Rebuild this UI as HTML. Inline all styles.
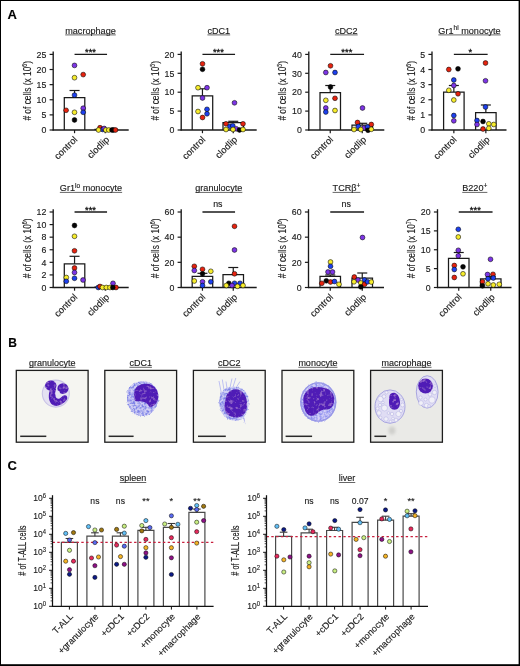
<!DOCTYPE html>
<html><head><meta charset="utf-8"><style>
html,body{margin:0;padding:0;background:#fff;}
body{width:520px;height:666px;overflow:hidden;}
svg{display:block;font-family:"Liberation Sans", sans-serif;will-change:transform;}
text{stroke:#1a1a1a;stroke-width:0.14px;}
</style></head><body>
<svg width="520" height="666" viewBox="0 0 520 666">
<rect x="0" y="0" width="520" height="666" fill="#000"/>
<defs><filter id="soft" x="-20%" y="-20%" width="140%" height="140%"><feGaussianBlur stdDeviation="0.6"/></filter><filter id="soft2" x="-50%" y="-50%" width="200%" height="200%"><feGaussianBlur stdDeviation="1.5"/></filter><filter id="grain" x="-15%" y="-15%" width="130%" height="130%"><feTurbulence type="fractalNoise" baseFrequency="0.45" numOctaves="2" seed="7" result="t"/><feDisplacementMap in="SourceGraphic" in2="t" scale="3.2" xChannelSelector="R" yChannelSelector="G" result="d"/><feColorMatrix in="t" type="matrix" values="0 0 0 0 0 0 0 0 0 0 0 0 0 0 0 0 0 0 2.4 -0.8" result="a"/><feComposite in="d" in2="a" operator="in" result="g"/><feGaussianBlur in="g" stdDeviation="0.5"/></filter><filter id="ngrain" x="-15%" y="-15%" width="130%" height="130%"><feTurbulence type="fractalNoise" baseFrequency="0.3" numOctaves="2" seed="3" result="t"/><feColorMatrix in="t" type="matrix" values="0 0 0 0 0.6 0 0 0 0 0.3 0 0 0 0 0.78 0 0 0 1.6 -0.85" result="a"/><feComposite in="a" in2="SourceGraphic" operator="in" result="sp"/><feMerge result="m"><feMergeNode in="SourceGraphic"/><feMergeNode in="sp"/></feMerge><feGaussianBlur in="m" stdDeviation="0.75"/></filter></defs>
<rect x="1" y="1" width="517.6" height="663.2" fill="#fff"/>
<path d="M64.3 130V97.5H84.8V130" fill="#fff" stroke="#1a1a1a" stroke-width="1.25"/>
<path d="M95 130V129.3H115.5V130" fill="#fff" stroke="#1a1a1a" stroke-width="1.25"/>
<line x1="74.55" y1="97.5" x2="74.55" y2="90.5" stroke="#1a1a1a" stroke-width="1.2" />
<line x1="69.55" y1="90.5" x2="79.55" y2="90.5" stroke="#1a1a1a" stroke-width="1.2" />
<line x1="53.2" y1="51.6" x2="53.2" y2="130.6" stroke="#1a1a1a" stroke-width="1.35" />
<line x1="52.6" y1="130" x2="128.7" y2="130" stroke="#1a1a1a" stroke-width="1.35" />
<line x1="49.6" y1="130" x2="53.2" y2="130" stroke="#1a1a1a" stroke-width="1.2" />
<text x="46.3" y="133.2" font-size="8.8" text-anchor="end" font-weight="normal" fill="#1a1a1a" >0</text>
<line x1="49.6" y1="114.88" x2="53.2" y2="114.88" stroke="#1a1a1a" stroke-width="1.2" />
<text x="46.3" y="118.08" font-size="8.8" text-anchor="end" font-weight="normal" fill="#1a1a1a" >5</text>
<line x1="49.6" y1="99.76" x2="53.2" y2="99.76" stroke="#1a1a1a" stroke-width="1.2" />
<text x="46.3" y="102.96" font-size="8.8" text-anchor="end" font-weight="normal" fill="#1a1a1a" >10</text>
<line x1="49.6" y1="84.64" x2="53.2" y2="84.64" stroke="#1a1a1a" stroke-width="1.2" />
<text x="46.3" y="87.84" font-size="8.8" text-anchor="end" font-weight="normal" fill="#1a1a1a" >15</text>
<line x1="49.6" y1="69.52" x2="53.2" y2="69.52" stroke="#1a1a1a" stroke-width="1.2" />
<text x="46.3" y="72.72" font-size="8.8" text-anchor="end" font-weight="normal" fill="#1a1a1a" >20</text>
<line x1="49.6" y1="54.4" x2="53.2" y2="54.4" stroke="#1a1a1a" stroke-width="1.2" />
<text x="46.3" y="57.6" font-size="8.8" text-anchor="end" font-weight="normal" fill="#1a1a1a" >25</text>
<line x1="74.55" y1="130" x2="74.55" y2="133.2" stroke="#1a1a1a" stroke-width="1.2" />
<text transform="translate(77.95 140.2) rotate(-45)" font-size="9.4" text-anchor="end" fill="#1a1a1a">control</text>
<line x1="105.25" y1="130" x2="105.25" y2="133.2" stroke="#1a1a1a" stroke-width="1.2" />
<text transform="translate(109.85 140.2) rotate(-45)" font-size="9.4" text-anchor="end" fill="#1a1a1a">clodlip</text>
<circle cx="74.5" cy="65.4" r="2.4" fill="#7d35e6" stroke="#000" stroke-width="0.55"/>
<circle cx="83.2" cy="74.6" r="2.4" fill="#e6230f" stroke="#000" stroke-width="0.55"/>
<circle cx="74.5" cy="77.7" r="2.4" fill="#f6ec2c" stroke="#000" stroke-width="0.55"/>
<circle cx="74.5" cy="95.1" r="2.4" fill="#1d40ee" stroke="#000" stroke-width="0.55"/>
<circle cx="83.2" cy="108.2" r="2.4" fill="#7d35e6" stroke="#000" stroke-width="0.55"/>
<circle cx="66.1" cy="110.3" r="2.4" fill="#e6230f" stroke="#000" stroke-width="0.55"/>
<circle cx="74.5" cy="112.3" r="2.4" fill="#f6ec2c" stroke="#000" stroke-width="0.55"/>
<circle cx="83.2" cy="112.3" r="2.4" fill="#1d40ee" stroke="#000" stroke-width="0.55"/>
<circle cx="74.5" cy="120" r="2.4" fill="#050505" stroke="#000" stroke-width="0.55"/>
<circle cx="100" cy="127.7" r="2.4" fill="#e6230f" stroke="#000" stroke-width="0.55"/>
<circle cx="102.7" cy="129.5" r="2.4" fill="#1d40ee" stroke="#000" stroke-width="0.55"/>
<circle cx="104.2" cy="128.5" r="2.4" fill="#7d35e6" stroke="#000" stroke-width="0.55"/>
<circle cx="98.5" cy="130" r="2.4" fill="#f6ec2c" stroke="#000" stroke-width="0.55"/>
<circle cx="105.8" cy="130" r="2.4" fill="#f6ec2c" stroke="#000" stroke-width="0.55"/>
<circle cx="108.8" cy="130" r="2.4" fill="#f6ec2c" stroke="#000" stroke-width="0.55"/>
<circle cx="112" cy="130" r="2.4" fill="#050505" stroke="#000" stroke-width="0.55"/>
<circle cx="113.5" cy="130" r="2.4" fill="#050505" stroke="#000" stroke-width="0.55"/>
<circle cx="115.5" cy="130" r="2.4" fill="#e6230f" stroke="#000" stroke-width="0.55"/>
<line x1="74.55" y1="54.4" x2="107.05" y2="54.4" stroke="#1a1a1a" stroke-width="1.3" />
<text x="90.5" y="55.4" font-size="9.4" text-anchor="middle" font-weight="normal" fill="#111" style="stroke-width:0.3px;stroke:#111">***</text>
<text x="65.21" y="33.6" font-size="9.1" fill="#1a1a1a">macrophage</text>
<line x1="65.21" y1="34.9" x2="115.79" y2="34.9" stroke="#333" stroke-width="0.75" />
<text transform="translate(30.6 90.8) rotate(-90) scale(0.71 1)" font-size="11.8" text-anchor="middle" fill="#1a1a1a"># of cells (x 10<tspan dy="-4.0" font-size="7.3">6</tspan><tspan dy="4.0">)</tspan></text>
<path d="M192.2 130V95.8H212.7V130" fill="#fff" stroke="#1a1a1a" stroke-width="1.25"/>
<path d="M223 130V122.5H243.5V130" fill="#fff" stroke="#1a1a1a" stroke-width="1.25"/>
<line x1="202.45" y1="95.8" x2="202.45" y2="88.8" stroke="#1a1a1a" stroke-width="1.2" />
<line x1="197.45" y1="88.8" x2="207.45" y2="88.8" stroke="#1a1a1a" stroke-width="1.2" />
<line x1="233.25" y1="122.5" x2="233.25" y2="121.3" stroke="#1a1a1a" stroke-width="1.2" />
<line x1="228.25" y1="121.3" x2="238.25" y2="121.3" stroke="#1a1a1a" stroke-width="1.2" />
<line x1="181.2" y1="51.6" x2="181.2" y2="130.6" stroke="#1a1a1a" stroke-width="1.35" />
<line x1="180.6" y1="130" x2="256.7" y2="130" stroke="#1a1a1a" stroke-width="1.35" />
<line x1="177.6" y1="130" x2="181.2" y2="130" stroke="#1a1a1a" stroke-width="1.2" />
<text x="174.3" y="133.2" font-size="8.8" text-anchor="end" font-weight="normal" fill="#1a1a1a" >0</text>
<line x1="177.6" y1="111.1" x2="181.2" y2="111.1" stroke="#1a1a1a" stroke-width="1.2" />
<text x="174.3" y="114.3" font-size="8.8" text-anchor="end" font-weight="normal" fill="#1a1a1a" >5</text>
<line x1="177.6" y1="92.2" x2="181.2" y2="92.2" stroke="#1a1a1a" stroke-width="1.2" />
<text x="174.3" y="95.4" font-size="8.8" text-anchor="end" font-weight="normal" fill="#1a1a1a" >10</text>
<line x1="177.6" y1="73.3" x2="181.2" y2="73.3" stroke="#1a1a1a" stroke-width="1.2" />
<text x="174.3" y="76.5" font-size="8.8" text-anchor="end" font-weight="normal" fill="#1a1a1a" >15</text>
<line x1="177.6" y1="54.4" x2="181.2" y2="54.4" stroke="#1a1a1a" stroke-width="1.2" />
<text x="174.3" y="57.6" font-size="8.8" text-anchor="end" font-weight="normal" fill="#1a1a1a" >20</text>
<line x1="202.45" y1="130" x2="202.45" y2="133.2" stroke="#1a1a1a" stroke-width="1.2" />
<text transform="translate(205.85 140.2) rotate(-45)" font-size="9.4" text-anchor="end" fill="#1a1a1a">control</text>
<line x1="233.25" y1="130" x2="233.25" y2="133.2" stroke="#1a1a1a" stroke-width="1.2" />
<text transform="translate(237.85 140.2) rotate(-45)" font-size="9.4" text-anchor="end" fill="#1a1a1a">clodlip</text>
<circle cx="202.5" cy="63.8" r="2.4" fill="#e6230f" stroke="#000" stroke-width="0.55"/>
<circle cx="202.5" cy="69.3" r="2.4" fill="#050505" stroke="#000" stroke-width="0.55"/>
<circle cx="198" cy="87.7" r="2.4" fill="#f6ec2c" stroke="#000" stroke-width="0.55"/>
<circle cx="207" cy="87.7" r="2.4" fill="#7d35e6" stroke="#000" stroke-width="0.55"/>
<circle cx="202.5" cy="98" r="2.4" fill="#7d35e6" stroke="#000" stroke-width="0.55"/>
<circle cx="207" cy="109.3" r="2.4" fill="#1d40ee" stroke="#000" stroke-width="0.55"/>
<circle cx="198" cy="111.5" r="2.4" fill="#f6ec2c" stroke="#000" stroke-width="0.55"/>
<circle cx="207" cy="113.8" r="2.4" fill="#1d40ee" stroke="#000" stroke-width="0.55"/>
<circle cx="202.5" cy="117.5" r="2.4" fill="#e6230f" stroke="#000" stroke-width="0.55"/>
<circle cx="234.5" cy="102.8" r="2.4" fill="#7d35e6" stroke="#000" stroke-width="0.55"/>
<circle cx="226" cy="123.8" r="2.4" fill="#e6230f" stroke="#000" stroke-width="0.55"/>
<circle cx="243" cy="123.8" r="2.4" fill="#e6230f" stroke="#000" stroke-width="0.55"/>
<circle cx="230" cy="126.3" r="2.4" fill="#1d40ee" stroke="#000" stroke-width="0.55"/>
<circle cx="232.8" cy="125.8" r="2.4" fill="#1d40ee" stroke="#000" stroke-width="0.55"/>
<circle cx="236.3" cy="128.8" r="2.4" fill="#7d35e6" stroke="#000" stroke-width="0.55"/>
<circle cx="226" cy="129.5" r="2.4" fill="#f6ec2c" stroke="#000" stroke-width="0.55"/>
<circle cx="233" cy="129.5" r="2.4" fill="#f6ec2c" stroke="#000" stroke-width="0.55"/>
<circle cx="239.5" cy="130" r="2.4" fill="#050505" stroke="#000" stroke-width="0.55"/>
<circle cx="243" cy="129.5" r="2.4" fill="#f6ec2c" stroke="#000" stroke-width="0.55"/>
<line x1="202.45" y1="54.4" x2="235.05" y2="54.4" stroke="#1a1a1a" stroke-width="1.3" />
<text x="218.45" y="55.4" font-size="9.4" text-anchor="middle" font-weight="normal" fill="#111" style="stroke-width:0.3px;stroke:#111">***</text>
<text x="207.42" y="33.6" font-size="9.1" fill="#1a1a1a">cDC1</text>
<line x1="207.42" y1="34.9" x2="230.18" y2="34.9" stroke="#333" stroke-width="0.75" />
<text transform="translate(158.6 90.8) rotate(-90) scale(0.71 1)" font-size="11.8" text-anchor="middle" fill="#1a1a1a"># of cells (x 10<tspan dy="-4.0" font-size="7.3">5</tspan><tspan dy="4.0">)</tspan></text>
<path d="M320 130V92.5H340.5V130" fill="#fff" stroke="#1a1a1a" stroke-width="1.25"/>
<path d="M352 130V125H372.5V130" fill="#fff" stroke="#1a1a1a" stroke-width="1.25"/>
<line x1="330.25" y1="92.5" x2="330.25" y2="85.5" stroke="#1a1a1a" stroke-width="1.2" />
<line x1="325.25" y1="85.5" x2="335.25" y2="85.5" stroke="#1a1a1a" stroke-width="1.2" />
<line x1="362.25" y1="125" x2="362.25" y2="123.3" stroke="#1a1a1a" stroke-width="1.2" />
<line x1="357.25" y1="123.3" x2="367.25" y2="123.3" stroke="#1a1a1a" stroke-width="1.2" />
<line x1="308.8" y1="51.6" x2="308.8" y2="130.6" stroke="#1a1a1a" stroke-width="1.35" />
<line x1="308.2" y1="130" x2="384.3" y2="130" stroke="#1a1a1a" stroke-width="1.35" />
<line x1="305.2" y1="130" x2="308.8" y2="130" stroke="#1a1a1a" stroke-width="1.2" />
<text x="301.9" y="133.2" font-size="8.8" text-anchor="end" font-weight="normal" fill="#1a1a1a" >0</text>
<line x1="305.2" y1="111.1" x2="308.8" y2="111.1" stroke="#1a1a1a" stroke-width="1.2" />
<text x="301.9" y="114.3" font-size="8.8" text-anchor="end" font-weight="normal" fill="#1a1a1a" >10</text>
<line x1="305.2" y1="92.2" x2="308.8" y2="92.2" stroke="#1a1a1a" stroke-width="1.2" />
<text x="301.9" y="95.4" font-size="8.8" text-anchor="end" font-weight="normal" fill="#1a1a1a" >20</text>
<line x1="305.2" y1="73.3" x2="308.8" y2="73.3" stroke="#1a1a1a" stroke-width="1.2" />
<text x="301.9" y="76.5" font-size="8.8" text-anchor="end" font-weight="normal" fill="#1a1a1a" >30</text>
<line x1="305.2" y1="54.4" x2="308.8" y2="54.4" stroke="#1a1a1a" stroke-width="1.2" />
<text x="301.9" y="57.6" font-size="8.8" text-anchor="end" font-weight="normal" fill="#1a1a1a" >40</text>
<line x1="330.25" y1="130" x2="330.25" y2="133.2" stroke="#1a1a1a" stroke-width="1.2" />
<text transform="translate(333.65 140.2) rotate(-45)" font-size="9.4" text-anchor="end" fill="#1a1a1a">control</text>
<line x1="362.25" y1="130" x2="362.25" y2="133.2" stroke="#1a1a1a" stroke-width="1.2" />
<text transform="translate(366.85 140.2) rotate(-45)" font-size="9.4" text-anchor="end" fill="#1a1a1a">clodlip</text>
<circle cx="330.5" cy="65.8" r="2.4" fill="#e6230f" stroke="#000" stroke-width="0.55"/>
<circle cx="325.8" cy="72.5" r="2.4" fill="#7d35e6" stroke="#000" stroke-width="0.55"/>
<circle cx="335" cy="72.5" r="2.4" fill="#1d40ee" stroke="#000" stroke-width="0.55"/>
<circle cx="330.5" cy="87" r="2.4" fill="#050505" stroke="#000" stroke-width="0.55"/>
<circle cx="325.8" cy="100.3" r="2.4" fill="#f6ec2c" stroke="#000" stroke-width="0.55"/>
<circle cx="335" cy="98.3" r="2.4" fill="#e6230f" stroke="#000" stroke-width="0.55"/>
<circle cx="325.8" cy="108" r="2.4" fill="#7d35e6" stroke="#000" stroke-width="0.55"/>
<circle cx="325.8" cy="112" r="2.4" fill="#1d40ee" stroke="#000" stroke-width="0.55"/>
<circle cx="335" cy="110.5" r="2.4" fill="#f6ec2c" stroke="#000" stroke-width="0.55"/>
<circle cx="362.5" cy="108" r="2.4" fill="#7d35e6" stroke="#000" stroke-width="0.55"/>
<circle cx="357.5" cy="122.5" r="2.4" fill="#e6230f" stroke="#000" stroke-width="0.55"/>
<circle cx="371.3" cy="124.5" r="2.4" fill="#e6230f" stroke="#000" stroke-width="0.55"/>
<circle cx="358.3" cy="126.5" r="2.4" fill="#1d40ee" stroke="#000" stroke-width="0.55"/>
<circle cx="363.8" cy="128" r="2.4" fill="#7d35e6" stroke="#000" stroke-width="0.55"/>
<circle cx="367.5" cy="127" r="2.4" fill="#1d40ee" stroke="#000" stroke-width="0.55"/>
<circle cx="354" cy="129.5" r="2.4" fill="#f6ec2c" stroke="#000" stroke-width="0.55"/>
<circle cx="360.8" cy="129.5" r="2.4" fill="#f6ec2c" stroke="#000" stroke-width="0.55"/>
<circle cx="368" cy="130.3" r="2.4" fill="#050505" stroke="#000" stroke-width="0.55"/>
<circle cx="371.3" cy="129.3" r="2.4" fill="#f6ec2c" stroke="#000" stroke-width="0.55"/>
<line x1="330.25" y1="54.4" x2="364.05" y2="54.4" stroke="#1a1a1a" stroke-width="1.3" />
<text x="346.85" y="55.4" font-size="9.4" text-anchor="middle" font-weight="normal" fill="#111" style="stroke-width:0.3px;stroke:#111">***</text>
<text x="334.92" y="33.6" font-size="9.1" fill="#1a1a1a">cDC2</text>
<line x1="334.92" y1="34.9" x2="357.68" y2="34.9" stroke="#333" stroke-width="0.75" />
<text transform="translate(285.8 90.8) rotate(-90) scale(0.71 1)" font-size="11.8" text-anchor="middle" fill="#1a1a1a"># of cells (x 10<tspan dy="-4.0" font-size="7.3">5</tspan><tspan dy="4.0">)</tspan></text>
<path d="M443.6 130V92H464.1V130" fill="#fff" stroke="#1a1a1a" stroke-width="1.25"/>
<path d="M475.6 130V112.5H496.1V130" fill="#fff" stroke="#1a1a1a" stroke-width="1.25"/>
<line x1="453.85" y1="92" x2="453.85" y2="85.5" stroke="#1a1a1a" stroke-width="1.2" />
<line x1="448.85" y1="85.5" x2="458.85" y2="85.5" stroke="#1a1a1a" stroke-width="1.2" />
<line x1="485.85" y1="112.5" x2="485.85" y2="105" stroke="#1a1a1a" stroke-width="1.2" />
<line x1="480.85" y1="105" x2="490.85" y2="105" stroke="#1a1a1a" stroke-width="1.2" />
<line x1="432" y1="51.6" x2="432" y2="130.6" stroke="#1a1a1a" stroke-width="1.35" />
<line x1="431.4" y1="130" x2="506.5" y2="130" stroke="#1a1a1a" stroke-width="1.35" />
<line x1="428.4" y1="130" x2="432" y2="130" stroke="#1a1a1a" stroke-width="1.2" />
<text x="425.1" y="133.2" font-size="8.8" text-anchor="end" font-weight="normal" fill="#1a1a1a" >0</text>
<line x1="428.4" y1="114.88" x2="432" y2="114.88" stroke="#1a1a1a" stroke-width="1.2" />
<text x="425.1" y="118.08" font-size="8.8" text-anchor="end" font-weight="normal" fill="#1a1a1a" >1</text>
<line x1="428.4" y1="99.76" x2="432" y2="99.76" stroke="#1a1a1a" stroke-width="1.2" />
<text x="425.1" y="102.96" font-size="8.8" text-anchor="end" font-weight="normal" fill="#1a1a1a" >2</text>
<line x1="428.4" y1="84.64" x2="432" y2="84.64" stroke="#1a1a1a" stroke-width="1.2" />
<text x="425.1" y="87.84" font-size="8.8" text-anchor="end" font-weight="normal" fill="#1a1a1a" >3</text>
<line x1="428.4" y1="69.52" x2="432" y2="69.52" stroke="#1a1a1a" stroke-width="1.2" />
<text x="425.1" y="72.72" font-size="8.8" text-anchor="end" font-weight="normal" fill="#1a1a1a" >4</text>
<line x1="428.4" y1="54.4" x2="432" y2="54.4" stroke="#1a1a1a" stroke-width="1.2" />
<text x="425.1" y="57.6" font-size="8.8" text-anchor="end" font-weight="normal" fill="#1a1a1a" >5</text>
<line x1="453.85" y1="130" x2="453.85" y2="133.2" stroke="#1a1a1a" stroke-width="1.2" />
<text transform="translate(457.25 140.2) rotate(-45)" font-size="9.4" text-anchor="end" fill="#1a1a1a">control</text>
<line x1="485.85" y1="130" x2="485.85" y2="133.2" stroke="#1a1a1a" stroke-width="1.2" />
<text transform="translate(490.45 140.2) rotate(-45)" font-size="9.4" text-anchor="end" fill="#1a1a1a">clodlip</text>
<circle cx="448.8" cy="69.5" r="2.4" fill="#e6230f" stroke="#000" stroke-width="0.55"/>
<circle cx="458" cy="68.8" r="2.4" fill="#050505" stroke="#000" stroke-width="0.55"/>
<circle cx="453.8" cy="80" r="2.4" fill="#1d40ee" stroke="#000" stroke-width="0.55"/>
<circle cx="453.8" cy="85.5" r="2.4" fill="#7d35e6" stroke="#000" stroke-width="0.55"/>
<circle cx="448.8" cy="90.3" r="2.4" fill="#f6ec2c" stroke="#000" stroke-width="0.55"/>
<circle cx="458" cy="93.8" r="2.4" fill="#e6230f" stroke="#000" stroke-width="0.55"/>
<circle cx="453.8" cy="100" r="2.4" fill="#f6ec2c" stroke="#000" stroke-width="0.55"/>
<circle cx="453.8" cy="115.5" r="2.4" fill="#1d40ee" stroke="#000" stroke-width="0.55"/>
<circle cx="453.8" cy="120.8" r="2.4" fill="#7d35e6" stroke="#000" stroke-width="0.55"/>
<circle cx="485.5" cy="63" r="2.4" fill="#e6230f" stroke="#000" stroke-width="0.55"/>
<circle cx="485.5" cy="80.8" r="2.4" fill="#7d35e6" stroke="#000" stroke-width="0.55"/>
<circle cx="485.5" cy="107" r="2.4" fill="#1d40ee" stroke="#000" stroke-width="0.55"/>
<circle cx="477" cy="120.5" r="2.4" fill="#1d40ee" stroke="#000" stroke-width="0.55"/>
<circle cx="483" cy="121.5" r="2.4" fill="#050505" stroke="#000" stroke-width="0.55"/>
<circle cx="477" cy="124.5" r="2.4" fill="#7d35e6" stroke="#000" stroke-width="0.55"/>
<circle cx="488.8" cy="123.8" r="2.4" fill="#f6ec2c" stroke="#000" stroke-width="0.55"/>
<circle cx="493.8" cy="124.5" r="2.4" fill="#f6ec2c" stroke="#000" stroke-width="0.55"/>
<circle cx="483" cy="129" r="2.4" fill="#e6230f" stroke="#000" stroke-width="0.55"/>
<circle cx="488.8" cy="128.3" r="2.4" fill="#f6ec2c" stroke="#000" stroke-width="0.55"/>
<line x1="453.85" y1="54.4" x2="487.65" y2="54.4" stroke="#1a1a1a" stroke-width="1.3" />
<text x="470.45" y="55.4" font-size="9.4" text-anchor="middle" font-weight="normal" fill="#111" style="stroke-width:0.3px;stroke:#111">*</text>
<text x="438.36" y="33.6" font-size="9.1" fill="#1a1a1a">Gr1</text>
<text x="453.53" y="30.2" font-size="6.6" fill="#1a1a1a">hi</text>
<text x="461.19" y="33.6" font-size="9.1" fill="#1a1a1a">monocyte</text>
<line x1="438.36" y1="34.9" x2="500.64" y2="34.9" stroke="#333" stroke-width="0.75" />
<text transform="translate(414.9 90.8) rotate(-90) scale(0.71 1)" font-size="11.8" text-anchor="middle" fill="#1a1a1a"># of cells (x 10<tspan dy="-4.0" font-size="7.3">6</tspan><tspan dy="4.0">)</tspan></text>
<path d="M64.3 287.5V263.8H84.8V287.5" fill="#fff" stroke="#1a1a1a" stroke-width="1.25"/>
<path d="M95 287.5V287H115.5V287.5" fill="#fff" stroke="#1a1a1a" stroke-width="1.25"/>
<line x1="74.55" y1="263.8" x2="74.55" y2="256.3" stroke="#1a1a1a" stroke-width="1.2" />
<line x1="69.55" y1="256.3" x2="79.55" y2="256.3" stroke="#1a1a1a" stroke-width="1.2" />
<line x1="53.2" y1="209.2" x2="53.2" y2="288.1" stroke="#1a1a1a" stroke-width="1.35" />
<line x1="52.6" y1="287.5" x2="128.7" y2="287.5" stroke="#1a1a1a" stroke-width="1.35" />
<line x1="49.6" y1="287.5" x2="53.2" y2="287.5" stroke="#1a1a1a" stroke-width="1.2" />
<text x="46.3" y="290.7" font-size="8.8" text-anchor="end" font-weight="normal" fill="#1a1a1a" >0</text>
<line x1="49.6" y1="274.92" x2="53.2" y2="274.92" stroke="#1a1a1a" stroke-width="1.2" />
<text x="46.3" y="278.12" font-size="8.8" text-anchor="end" font-weight="normal" fill="#1a1a1a" >2</text>
<line x1="49.6" y1="262.33" x2="53.2" y2="262.33" stroke="#1a1a1a" stroke-width="1.2" />
<text x="46.3" y="265.53" font-size="8.8" text-anchor="end" font-weight="normal" fill="#1a1a1a" >4</text>
<line x1="49.6" y1="249.75" x2="53.2" y2="249.75" stroke="#1a1a1a" stroke-width="1.2" />
<text x="46.3" y="252.95" font-size="8.8" text-anchor="end" font-weight="normal" fill="#1a1a1a" >6</text>
<line x1="49.6" y1="237.17" x2="53.2" y2="237.17" stroke="#1a1a1a" stroke-width="1.2" />
<text x="46.3" y="240.37" font-size="8.8" text-anchor="end" font-weight="normal" fill="#1a1a1a" >8</text>
<line x1="49.6" y1="224.58" x2="53.2" y2="224.58" stroke="#1a1a1a" stroke-width="1.2" />
<text x="46.3" y="227.78" font-size="8.8" text-anchor="end" font-weight="normal" fill="#1a1a1a" >10</text>
<line x1="49.6" y1="212" x2="53.2" y2="212" stroke="#1a1a1a" stroke-width="1.2" />
<text x="46.3" y="215.2" font-size="8.8" text-anchor="end" font-weight="normal" fill="#1a1a1a" >12</text>
<line x1="74.55" y1="287.5" x2="74.55" y2="290.7" stroke="#1a1a1a" stroke-width="1.2" />
<text transform="translate(77.95 297.7) rotate(-45)" font-size="9.4" text-anchor="end" fill="#1a1a1a">control</text>
<line x1="105.25" y1="287.5" x2="105.25" y2="290.7" stroke="#1a1a1a" stroke-width="1.2" />
<text transform="translate(109.85 297.7) rotate(-45)" font-size="9.4" text-anchor="end" fill="#1a1a1a">clodlip</text>
<circle cx="74.5" cy="225.5" r="2.4" fill="#050505" stroke="#000" stroke-width="0.55"/>
<circle cx="74.5" cy="236.3" r="2.4" fill="#f6ec2c" stroke="#000" stroke-width="0.55"/>
<circle cx="74.5" cy="250.8" r="2.4" fill="#e6230f" stroke="#000" stroke-width="0.55"/>
<circle cx="74.5" cy="268" r="2.4" fill="#e6230f" stroke="#000" stroke-width="0.55"/>
<circle cx="74.5" cy="272.5" r="2.4" fill="#7d35e6" stroke="#000" stroke-width="0.55"/>
<circle cx="66.3" cy="277.5" r="2.4" fill="#f6ec2c" stroke="#000" stroke-width="0.55"/>
<circle cx="66.3" cy="281.3" r="2.4" fill="#1d40ee" stroke="#000" stroke-width="0.55"/>
<circle cx="74.5" cy="278.3" r="2.4" fill="#1d40ee" stroke="#000" stroke-width="0.55"/>
<circle cx="83" cy="280" r="2.4" fill="#7d35e6" stroke="#000" stroke-width="0.55"/>
<circle cx="98.3" cy="287.5" r="2.4" fill="#1d40ee" stroke="#000" stroke-width="0.55"/>
<circle cx="100" cy="286.5" r="2.4" fill="#e6230f" stroke="#000" stroke-width="0.55"/>
<circle cx="102.5" cy="287.5" r="2.4" fill="#f6ec2c" stroke="#000" stroke-width="0.55"/>
<circle cx="106.3" cy="287.5" r="2.4" fill="#f6ec2c" stroke="#000" stroke-width="0.55"/>
<circle cx="110" cy="287.5" r="2.4" fill="#f6ec2c" stroke="#000" stroke-width="0.55"/>
<circle cx="116" cy="287.5" r="2.4" fill="#e6230f" stroke="#000" stroke-width="0.55"/>
<circle cx="113" cy="283.3" r="2.4" fill="#7d35e6" stroke="#000" stroke-width="0.55"/>
<circle cx="112.8" cy="287.5" r="2.4" fill="#050505" stroke="#000" stroke-width="0.55"/>
<line x1="74.55" y1="212" x2="107.05" y2="212" stroke="#1a1a1a" stroke-width="1.3" />
<text x="90.5" y="213" font-size="9.4" text-anchor="middle" font-weight="normal" fill="#111" style="stroke-width:0.3px;stroke:#111">***</text>
<text x="59.86" y="191.1" font-size="9.1" fill="#1a1a1a">Gr1</text>
<text x="75.03" y="187.7" font-size="6.6" fill="#1a1a1a">lo</text>
<text x="82.69" y="191.1" font-size="9.1" fill="#1a1a1a">monocyte</text>
<line x1="59.86" y1="192.4" x2="122.14" y2="192.4" stroke="#333" stroke-width="0.75" />
<text transform="translate(30.6 248.35) rotate(-90) scale(0.71 1)" font-size="11.8" text-anchor="middle" fill="#1a1a1a"># of cells (x 10<tspan dy="-4.0" font-size="7.3">6</tspan><tspan dy="4.0">)</tspan></text>
<path d="M192.2 287.5V276.3H212.7V287.5" fill="#fff" stroke="#1a1a1a" stroke-width="1.25"/>
<path d="M223 287.5V274.5H243.5V287.5" fill="#fff" stroke="#1a1a1a" stroke-width="1.25"/>
<line x1="202.45" y1="276.3" x2="202.45" y2="273.3" stroke="#1a1a1a" stroke-width="1.2" />
<line x1="197.45" y1="273.3" x2="207.45" y2="273.3" stroke="#1a1a1a" stroke-width="1.2" />
<line x1="233.25" y1="274.5" x2="233.25" y2="267.5" stroke="#1a1a1a" stroke-width="1.2" />
<line x1="228.25" y1="267.5" x2="238.25" y2="267.5" stroke="#1a1a1a" stroke-width="1.2" />
<line x1="181.2" y1="209.2" x2="181.2" y2="288.1" stroke="#1a1a1a" stroke-width="1.35" />
<line x1="180.6" y1="287.5" x2="256.7" y2="287.5" stroke="#1a1a1a" stroke-width="1.35" />
<line x1="177.6" y1="287.5" x2="181.2" y2="287.5" stroke="#1a1a1a" stroke-width="1.2" />
<text x="174.3" y="290.7" font-size="8.8" text-anchor="end" font-weight="normal" fill="#1a1a1a" >0</text>
<line x1="177.6" y1="262.33" x2="181.2" y2="262.33" stroke="#1a1a1a" stroke-width="1.2" />
<text x="174.3" y="265.53" font-size="8.8" text-anchor="end" font-weight="normal" fill="#1a1a1a" >20</text>
<line x1="177.6" y1="237.17" x2="181.2" y2="237.17" stroke="#1a1a1a" stroke-width="1.2" />
<text x="174.3" y="240.37" font-size="8.8" text-anchor="end" font-weight="normal" fill="#1a1a1a" >40</text>
<line x1="177.6" y1="212" x2="181.2" y2="212" stroke="#1a1a1a" stroke-width="1.2" />
<text x="174.3" y="215.2" font-size="8.8" text-anchor="end" font-weight="normal" fill="#1a1a1a" >60</text>
<line x1="202.45" y1="287.5" x2="202.45" y2="290.7" stroke="#1a1a1a" stroke-width="1.2" />
<text transform="translate(205.85 297.7) rotate(-45)" font-size="9.4" text-anchor="end" fill="#1a1a1a">control</text>
<line x1="233.25" y1="287.5" x2="233.25" y2="290.7" stroke="#1a1a1a" stroke-width="1.2" />
<text transform="translate(237.85 297.7) rotate(-45)" font-size="9.4" text-anchor="end" fill="#1a1a1a">clodlip</text>
<circle cx="194.3" cy="266.3" r="2.4" fill="#e6230f" stroke="#000" stroke-width="0.55"/>
<circle cx="202.5" cy="269.3" r="2.4" fill="#e6230f" stroke="#000" stroke-width="0.55"/>
<circle cx="194.3" cy="270.5" r="2.4" fill="#7d35e6" stroke="#000" stroke-width="0.55"/>
<circle cx="202.5" cy="273.8" r="2.4" fill="#050505" stroke="#000" stroke-width="0.55"/>
<circle cx="210.8" cy="271.3" r="2.4" fill="#f6ec2c" stroke="#000" stroke-width="0.55"/>
<circle cx="194.3" cy="281" r="2.4" fill="#f6ec2c" stroke="#000" stroke-width="0.55"/>
<circle cx="202.5" cy="281.8" r="2.4" fill="#7d35e6" stroke="#000" stroke-width="0.55"/>
<circle cx="210.8" cy="281.8" r="2.4" fill="#1d40ee" stroke="#000" stroke-width="0.55"/>
<circle cx="202.5" cy="285.5" r="2.4" fill="#1d40ee" stroke="#000" stroke-width="0.55"/>
<circle cx="234.5" cy="226.3" r="2.4" fill="#e6230f" stroke="#000" stroke-width="0.55"/>
<circle cx="234.5" cy="250" r="2.4" fill="#7d35e6" stroke="#000" stroke-width="0.55"/>
<circle cx="234.5" cy="273.8" r="2.4" fill="#e6230f" stroke="#000" stroke-width="0.55"/>
<circle cx="228.8" cy="283.3" r="2.4" fill="#050505" stroke="#000" stroke-width="0.55"/>
<circle cx="234.5" cy="283.3" r="2.4" fill="#1d40ee" stroke="#000" stroke-width="0.55"/>
<circle cx="240" cy="283.3" r="2.4" fill="#1d40ee" stroke="#000" stroke-width="0.55"/>
<circle cx="226.3" cy="285.5" r="2.4" fill="#f6ec2c" stroke="#000" stroke-width="0.55"/>
<circle cx="232" cy="285.5" r="2.4" fill="#7d35e6" stroke="#000" stroke-width="0.55"/>
<circle cx="237.5" cy="286.3" r="2.4" fill="#f6ec2c" stroke="#000" stroke-width="0.55"/>
<circle cx="243" cy="285.5" r="2.4" fill="#f6ec2c" stroke="#000" stroke-width="0.55"/>
<line x1="202.45" y1="212" x2="235.05" y2="212" stroke="#1a1a1a" stroke-width="1.3" />
<text x="217.85" y="206.8" font-size="8.8" text-anchor="middle" font-weight="normal" fill="#1a1a1a" >ns</text>
<text x="195.28" y="191.1" font-size="9.1" fill="#1a1a1a">granulocyte</text>
<line x1="195.28" y1="192.4" x2="242.32" y2="192.4" stroke="#333" stroke-width="0.75" />
<text transform="translate(159 248.35) rotate(-90) scale(0.71 1)" font-size="11.8" text-anchor="middle" fill="#1a1a1a"># of cells (x 10<tspan dy="-4.0" font-size="7.3">6</tspan><tspan dy="4.0">)</tspan></text>
<path d="M320 287.5V276.3H340.5V287.5" fill="#fff" stroke="#1a1a1a" stroke-width="1.25"/>
<path d="M352 287.5V278H372.5V287.5" fill="#fff" stroke="#1a1a1a" stroke-width="1.25"/>
<line x1="330.25" y1="276.3" x2="330.25" y2="275" stroke="#1a1a1a" stroke-width="1.2" />
<line x1="325.25" y1="275" x2="335.25" y2="275" stroke="#1a1a1a" stroke-width="1.2" />
<line x1="362.25" y1="278" x2="362.25" y2="273" stroke="#1a1a1a" stroke-width="1.2" />
<line x1="357.25" y1="273" x2="367.25" y2="273" stroke="#1a1a1a" stroke-width="1.2" />
<line x1="308.5" y1="209.2" x2="308.5" y2="288.1" stroke="#1a1a1a" stroke-width="1.35" />
<line x1="307.9" y1="287.5" x2="384" y2="287.5" stroke="#1a1a1a" stroke-width="1.35" />
<line x1="304.9" y1="287.5" x2="308.5" y2="287.5" stroke="#1a1a1a" stroke-width="1.2" />
<text x="301.6" y="290.7" font-size="8.8" text-anchor="end" font-weight="normal" fill="#1a1a1a" >0</text>
<line x1="304.9" y1="262.33" x2="308.5" y2="262.33" stroke="#1a1a1a" stroke-width="1.2" />
<text x="301.6" y="265.53" font-size="8.8" text-anchor="end" font-weight="normal" fill="#1a1a1a" >20</text>
<line x1="304.9" y1="237.17" x2="308.5" y2="237.17" stroke="#1a1a1a" stroke-width="1.2" />
<text x="301.6" y="240.37" font-size="8.8" text-anchor="end" font-weight="normal" fill="#1a1a1a" >40</text>
<line x1="304.9" y1="212" x2="308.5" y2="212" stroke="#1a1a1a" stroke-width="1.2" />
<text x="301.6" y="215.2" font-size="8.8" text-anchor="end" font-weight="normal" fill="#1a1a1a" >60</text>
<line x1="330.25" y1="287.5" x2="330.25" y2="290.7" stroke="#1a1a1a" stroke-width="1.2" />
<text transform="translate(333.65 297.7) rotate(-45)" font-size="9.4" text-anchor="end" fill="#1a1a1a">control</text>
<line x1="362.25" y1="287.5" x2="362.25" y2="290.7" stroke="#1a1a1a" stroke-width="1.2" />
<text transform="translate(366.85 297.7) rotate(-45)" font-size="9.4" text-anchor="end" fill="#1a1a1a">clodlip</text>
<circle cx="330.5" cy="262" r="2.4" fill="#f6ec2c" stroke="#000" stroke-width="0.55"/>
<circle cx="330.5" cy="266.3" r="2.4" fill="#1d40ee" stroke="#000" stroke-width="0.55"/>
<circle cx="328" cy="272" r="2.4" fill="#7d35e6" stroke="#000" stroke-width="0.55"/>
<circle cx="332.5" cy="272" r="2.4" fill="#7d35e6" stroke="#000" stroke-width="0.55"/>
<circle cx="326.3" cy="280.8" r="2.4" fill="#050505" stroke="#000" stroke-width="0.55"/>
<circle cx="321.8" cy="283.3" r="2.4" fill="#e6230f" stroke="#000" stroke-width="0.55"/>
<circle cx="330.5" cy="282" r="2.4" fill="#e6230f" stroke="#000" stroke-width="0.55"/>
<circle cx="334.5" cy="281.5" r="2.4" fill="#1d40ee" stroke="#000" stroke-width="0.55"/>
<circle cx="339" cy="284.3" r="2.4" fill="#f6ec2c" stroke="#000" stroke-width="0.55"/>
<circle cx="362.5" cy="237.5" r="2.4" fill="#7d35e6" stroke="#000" stroke-width="0.55"/>
<circle cx="354.3" cy="277" r="2.4" fill="#e6230f" stroke="#000" stroke-width="0.55"/>
<circle cx="358" cy="280" r="2.4" fill="#7d35e6" stroke="#000" stroke-width="0.55"/>
<circle cx="364.5" cy="280" r="2.4" fill="#1d40ee" stroke="#000" stroke-width="0.55"/>
<circle cx="354" cy="281.8" r="2.4" fill="#f6ec2c" stroke="#000" stroke-width="0.55"/>
<circle cx="360.8" cy="283" r="2.4" fill="#f6ec2c" stroke="#000" stroke-width="0.55"/>
<circle cx="364.5" cy="284.3" r="2.4" fill="#e6230f" stroke="#000" stroke-width="0.55"/>
<circle cx="367.5" cy="281.8" r="2.4" fill="#1d40ee" stroke="#000" stroke-width="0.55"/>
<circle cx="371.3" cy="282" r="2.4" fill="#f6ec2c" stroke="#000" stroke-width="0.55"/>
<circle cx="360.8" cy="286.8" r="2.4" fill="#050505" stroke="#000" stroke-width="0.55"/>
<line x1="330.25" y1="212" x2="364.05" y2="212" stroke="#1a1a1a" stroke-width="1.3" />
<text x="346.25" y="206.8" font-size="8.8" text-anchor="middle" font-weight="normal" fill="#1a1a1a" >ns</text>
<text x="332.6" y="191.1" font-size="9.1" fill="#1a1a1a">TCR&#946;</text>
<text x="356.54" y="187.7" font-size="6.6" fill="#1a1a1a">+</text>
<line x1="332.6" y1="192.4" x2="360.4" y2="192.4" stroke="#333" stroke-width="0.75" />
<text transform="translate(285.9 248.35) rotate(-90) scale(0.71 1)" font-size="11.8" text-anchor="middle" fill="#1a1a1a"># of cells (x 10<tspan dy="-4.0" font-size="7.3">6</tspan><tspan dy="4.0">)</tspan></text>
<path d="M448.5 287.5V258.3H469V287.5" fill="#fff" stroke="#1a1a1a" stroke-width="1.25"/>
<path d="M480.5 287.5V278.8H501V287.5" fill="#fff" stroke="#1a1a1a" stroke-width="1.25"/>
<line x1="458.75" y1="258.3" x2="458.75" y2="252.5" stroke="#1a1a1a" stroke-width="1.2" />
<line x1="453.75" y1="252.5" x2="463.75" y2="252.5" stroke="#1a1a1a" stroke-width="1.2" />
<line x1="490.75" y1="278.8" x2="490.75" y2="276.3" stroke="#1a1a1a" stroke-width="1.2" />
<line x1="485.75" y1="276.3" x2="495.75" y2="276.3" stroke="#1a1a1a" stroke-width="1.2" />
<line x1="437.5" y1="209.2" x2="437.5" y2="288.1" stroke="#1a1a1a" stroke-width="1.35" />
<line x1="436.9" y1="287.5" x2="511.5" y2="287.5" stroke="#1a1a1a" stroke-width="1.35" />
<line x1="433.9" y1="287.5" x2="437.5" y2="287.5" stroke="#1a1a1a" stroke-width="1.2" />
<text x="430.6" y="290.7" font-size="8.8" text-anchor="end" font-weight="normal" fill="#1a1a1a" >0</text>
<line x1="433.9" y1="268.62" x2="437.5" y2="268.62" stroke="#1a1a1a" stroke-width="1.2" />
<text x="430.6" y="271.82" font-size="8.8" text-anchor="end" font-weight="normal" fill="#1a1a1a" >5</text>
<line x1="433.9" y1="249.75" x2="437.5" y2="249.75" stroke="#1a1a1a" stroke-width="1.2" />
<text x="430.6" y="252.95" font-size="8.8" text-anchor="end" font-weight="normal" fill="#1a1a1a" >10</text>
<line x1="433.9" y1="230.88" x2="437.5" y2="230.88" stroke="#1a1a1a" stroke-width="1.2" />
<text x="430.6" y="234.07" font-size="8.8" text-anchor="end" font-weight="normal" fill="#1a1a1a" >15</text>
<line x1="433.9" y1="212" x2="437.5" y2="212" stroke="#1a1a1a" stroke-width="1.2" />
<text x="430.6" y="215.2" font-size="8.8" text-anchor="end" font-weight="normal" fill="#1a1a1a" >20</text>
<line x1="458.75" y1="287.5" x2="458.75" y2="290.7" stroke="#1a1a1a" stroke-width="1.2" />
<text transform="translate(462.15 297.7) rotate(-45)" font-size="9.4" text-anchor="end" fill="#1a1a1a">control</text>
<line x1="490.75" y1="287.5" x2="490.75" y2="290.7" stroke="#1a1a1a" stroke-width="1.2" />
<text transform="translate(495.35 297.7) rotate(-45)" font-size="9.4" text-anchor="end" fill="#1a1a1a">clodlip</text>
<circle cx="458.3" cy="229.3" r="2.4" fill="#1d40ee" stroke="#000" stroke-width="0.55"/>
<circle cx="458.3" cy="237" r="2.4" fill="#f6ec2c" stroke="#000" stroke-width="0.55"/>
<circle cx="458.3" cy="250.3" r="2.4" fill="#7d35e6" stroke="#000" stroke-width="0.55"/>
<circle cx="458.3" cy="255.8" r="2.4" fill="#7d35e6" stroke="#000" stroke-width="0.55"/>
<circle cx="454.3" cy="265.5" r="2.4" fill="#e6230f" stroke="#000" stroke-width="0.55"/>
<circle cx="463" cy="266.8" r="2.4" fill="#050505" stroke="#000" stroke-width="0.55"/>
<circle cx="454.3" cy="269.5" r="2.4" fill="#1d40ee" stroke="#000" stroke-width="0.55"/>
<circle cx="454.3" cy="277.5" r="2.4" fill="#e6230f" stroke="#000" stroke-width="0.55"/>
<circle cx="463" cy="273.8" r="2.4" fill="#f6ec2c" stroke="#000" stroke-width="0.55"/>
<circle cx="490.5" cy="259.3" r="2.4" fill="#7d35e6" stroke="#000" stroke-width="0.55"/>
<circle cx="487.5" cy="274.5" r="2.4" fill="#7d35e6" stroke="#000" stroke-width="0.55"/>
<circle cx="493" cy="274.3" r="2.4" fill="#e6230f" stroke="#000" stroke-width="0.55"/>
<circle cx="482.5" cy="281.8" r="2.4" fill="#e6230f" stroke="#000" stroke-width="0.55"/>
<circle cx="488" cy="278.8" r="2.4" fill="#1d40ee" stroke="#000" stroke-width="0.55"/>
<circle cx="493.3" cy="278" r="2.4" fill="#1d40ee" stroke="#000" stroke-width="0.55"/>
<circle cx="488" cy="283.8" r="2.4" fill="#f6ec2c" stroke="#000" stroke-width="0.55"/>
<circle cx="493.3" cy="285" r="2.4" fill="#f6ec2c" stroke="#000" stroke-width="0.55"/>
<circle cx="499.3" cy="284.3" r="2.4" fill="#f6ec2c" stroke="#000" stroke-width="0.55"/>
<circle cx="482.5" cy="285.8" r="2.4" fill="#050505" stroke="#000" stroke-width="0.55"/>
<line x1="458.75" y1="212" x2="492.55" y2="212" stroke="#1a1a1a" stroke-width="1.3" />
<text x="475.35" y="213" font-size="9.4" text-anchor="middle" font-weight="normal" fill="#111" style="stroke-width:0.3px;stroke:#111">***</text>
<text x="462.25" y="191.1" font-size="9.1" fill="#1a1a1a">B220</text>
<text x="483.5" y="187.7" font-size="6.6" fill="#1a1a1a">+</text>
<line x1="462.25" y1="192.4" x2="487.35" y2="192.4" stroke="#333" stroke-width="0.75" />
<text transform="translate(414.6 248.35) rotate(-90) scale(0.71 1)" font-size="11.8" text-anchor="middle" fill="#1a1a1a"># of cells (x 10<tspan dy="-4.0" font-size="7.3">7</tspan><tspan dy="4.0">)</tspan></text>
<rect x="16.3" y="370.4" width="71.8" height="71.8" fill="#f5f5f1" stroke="#1e1e1e" stroke-width="1.3" />
<text x="28.94" y="366" font-size="9" fill="#1a1a1a">granulocyte</text>
<line x1="28.94" y1="367.3" x2="75.46" y2="367.3" stroke="#333" stroke-width="0.75" />
<line x1="20.2" y1="436.3" x2="46.3" y2="436.3" stroke="#2a2a2a" stroke-width="1.5" />
<rect x="104.8" y="370.4" width="71.8" height="71.8" fill="#f5f5f1" stroke="#1e1e1e" stroke-width="1.3" />
<text x="129.45" y="366" font-size="9" fill="#1a1a1a">cDC1</text>
<line x1="129.45" y1="367.3" x2="151.95" y2="367.3" stroke="#333" stroke-width="0.75" />
<line x1="108.6" y1="436.3" x2="133.6" y2="436.3" stroke="#2a2a2a" stroke-width="1.5" />
<rect x="193.4" y="370.4" width="71.8" height="71.8" fill="#f5f5f1" stroke="#1e1e1e" stroke-width="1.3" />
<text x="218.05" y="366" font-size="9" fill="#1a1a1a">cDC2</text>
<line x1="218.05" y1="367.3" x2="240.55" y2="367.3" stroke="#333" stroke-width="0.75" />
<line x1="198" y1="436.3" x2="225.8" y2="436.3" stroke="#2a2a2a" stroke-width="1.5" />
<rect x="282" y="370.4" width="71.8" height="71.8" fill="#f5f5f1" stroke="#1e1e1e" stroke-width="1.3" />
<text x="298.39" y="366" font-size="9" fill="#1a1a1a">monocyte</text>
<line x1="298.39" y1="367.3" x2="337.41" y2="367.3" stroke="#333" stroke-width="0.75" />
<line x1="285.6" y1="436.3" x2="312.1" y2="436.3" stroke="#2a2a2a" stroke-width="1.5" />
<rect x="370.6" y="370.4" width="71.8" height="71.8" fill="#eaeae7" stroke="#1e1e1e" stroke-width="1.3" />
<text x="381.48" y="366" font-size="9" fill="#1a1a1a">macrophage</text>
<line x1="381.48" y1="367.3" x2="431.52" y2="367.3" stroke="#333" stroke-width="0.75" />
<line x1="374.4" y1="436.3" x2="386.2" y2="436.3" stroke="#2a2a2a" stroke-width="1.5" />
<circle cx="55.8" cy="393.6" r="13.5" fill="#e4e0f2" stroke="#c9c3e6" stroke-width="1.1" filter="url(#soft)"/>
<g fill="#4f1cb6" filter="url(#ngrain)">
<ellipse cx="50.8" cy="385.6" rx="5.7" ry="5.1"/>
<ellipse cx="62.9" cy="388.6" rx="5.5" ry="5.3"/>
<path d="M51 388 L56 388.5 L55.5 396 C56 398.5 58 399.5 60 398.2 C61.8 396.8 63 395.2 65 395.2 C67.6 395.4 68 398.4 66.2 400.6 C63.5 403.5 59.5 406.4 55 405.8 C50.5 405 48.6 400 48.8 395.5 C49 392 50 389.5 51 388 Z"/>
</g>
<ellipse cx="57.6" cy="393.2" rx="2.3" ry="2.6" fill="#e6e2f4" filter="url(#soft)"/>
<path d="M127.5 392 C128.5 385 136 381.2 143 381.3 C151 381.5 157.8 387 158.6 395 C159.2 403 155 411 149 414.8 C142 417.8 133 415.3 129.3 408 C126.8 403 126.5 397 127.5 392 Z" fill="#d2d0f4" filter="url(#soft)"/>
<path d="M127.5 392 C128.5 385 136 381.2 143 381.3 C151 381.5 157.8 387 158.6 395 C159.2 403 155 411 149 414.8 C142 417.8 133 415.3 129.3 408 C126.8 403 126.5 397 127.5 392 Z" fill="#7a80e6" filter="url(#grain)"/>
<path d="M134.2 393 C134.5 386.5 140 383.6 146.5 383.7 C153.5 384 158.3 389 158.3 396 C158.3 402 155 406.5 150 407.3 C148 404 145 401.5 140 401.3 C137 401.3 135 401.8 134.6 400 C134.2 397.5 134.1 395 134.2 393 Z" fill="#4f1cb6" filter="url(#ngrain)"/>
<path d="M222 392 C219 396 218.5 402 220 408 C221.5 414 226 419.5 233 420.5 C238 421 241 420 243 418.5 L245.5 425 L244 417 C247.2 413 249 406 248.6 400 C248.2 394 245 389.5 240 388 C236 386.5 231 386.5 228 387.5 C225 388.5 223.5 390 222 392 Z" fill="#d0d0f4" filter="url(#soft)"/>
<path d="M222 392 C219 396 218.5 402 220 408 C221.5 414 226 419.5 233 420.5 C238 421 241 420 243 418.5 L245.5 425 L244 417 C247.2 413 249 406 248.6 400 C248.2 394 245 389.5 240 388 C236 386.5 231 386.5 228 387.5 C225 388.5 223.5 390 222 392 Z" fill="#7a80e6" filter="url(#grain)"/>
<path d="M221.5 394 L219 381 M224 390 L222.3 379.5 M227 388.5 L226 381.5 M230 387.5 L232 378.5 M233 387 L235.8 378 M236.5 387 L240 381.5" stroke="#b4b7f2" stroke-width="1.0" fill="none" opacity="0.85" filter="url(#soft)"/>
<path d="M225.6 399 C226.5 393 230.5 389.3 236 389.3 C242 389.6 246.5 395 247 402.5 C247.4 410 245 416 238.5 417.2 C231.5 418.3 225.2 415 224.6 408.5 C224.3 405 224.8 402 225.6 399 Z" fill="#4f1cb6" filter="url(#ngrain)"/>
<ellipse cx="318.3" cy="402" rx="18" ry="19.7" fill="#d4d0f6" filter="url(#soft)"/>
<ellipse cx="318.3" cy="402" rx="18" ry="19.7" fill="#8c8ef0" filter="url(#grain)"/>
<ellipse cx="318.3" cy="402" rx="17.4" ry="19.1" fill="none" stroke="#9898e6" stroke-width="1.4" filter="url(#soft)"/>
<path d="M303.3 401 C302.8 392.5 309 387.2 317 387 C326 386.8 333.8 390.5 334.2 398.5 C334.5 405 331.5 409 327.5 409.6 C323 409.2 319.5 410.8 316.8 413.8 C314 416.3 310 416.5 307.3 414 C304.5 411 303.5 406 303.3 401 Z" fill="#4f1cb6" filter="url(#ngrain)"/>
<ellipse cx="392" cy="430.5" rx="3.4" ry="4.0" fill="#cfcfcc" filter="url(#soft2)"/>
<ellipse cx="390" cy="406.6" rx="15" ry="16.7" fill="#e0ddf4" stroke="#a29ede" stroke-width="0.9" filter="url(#soft)"/>
<ellipse cx="427.2" cy="391.9" rx="10.9" ry="16.2" fill="#e0ddf4" stroke="#a29ede" stroke-width="0.9" filter="url(#soft)"/>
<circle cx="380.5" cy="399" r="2.76" fill="#f1f0f8" stroke="#aba7e0" stroke-width="0.45"/>
<circle cx="384.5" cy="408" r="2.99" fill="#f1f0f8" stroke="#aba7e0" stroke-width="0.45"/>
<circle cx="379" cy="413" r="2.3" fill="#f1f0f8" stroke="#aba7e0" stroke-width="0.45"/>
<circle cx="398.5" cy="414" r="2.64" fill="#f1f0f8" stroke="#aba7e0" stroke-width="0.45"/>
<circle cx="386" cy="419" r="2.18" fill="#f1f0f8" stroke="#aba7e0" stroke-width="0.45"/>
<circle cx="402.5" cy="405" r="1.95" fill="#f1f0f8" stroke="#aba7e0" stroke-width="0.45"/>
<circle cx="380" cy="405" r="1.61" fill="#f1f0f8" stroke="#aba7e0" stroke-width="0.45"/>
<circle cx="392" cy="414" r="1.72" fill="#f1f0f8" stroke="#aba7e0" stroke-width="0.45"/>
<circle cx="396" cy="420" r="1.84" fill="#f1f0f8" stroke="#aba7e0" stroke-width="0.45"/>
<circle cx="384" cy="396.5" r="1.84" fill="#f1f0f8" stroke="#aba7e0" stroke-width="0.45"/>
<circle cx="377.5" cy="408.5" r="1.49" fill="#f1f0f8" stroke="#aba7e0" stroke-width="0.45"/>
<circle cx="388.5" cy="413" r="1.38" fill="#f1f0f8" stroke="#aba7e0" stroke-width="0.45"/>
<circle cx="401" cy="411" r="1.61" fill="#f1f0f8" stroke="#aba7e0" stroke-width="0.45"/>
<circle cx="393" cy="418.5" r="1.38" fill="#f1f0f8" stroke="#aba7e0" stroke-width="0.45"/>
<circle cx="383" cy="402.5" r="1.26" fill="#f1f0f8" stroke="#aba7e0" stroke-width="0.45"/>
<circle cx="386.5" cy="392.5" r="1.49" fill="#f1f0f8" stroke="#aba7e0" stroke-width="0.45"/>
<circle cx="390.5" cy="421.5" r="1.26" fill="#f1f0f8" stroke="#aba7e0" stroke-width="0.45"/>
<circle cx="380.5" cy="417.5" r="1.38" fill="#f1f0f8" stroke="#aba7e0" stroke-width="0.45"/>
<circle cx="401.5" cy="399.5" r="1.26" fill="#f1f0f8" stroke="#aba7e0" stroke-width="0.45"/>
<circle cx="432" cy="400" r="3.22" fill="#f1f0f8" stroke="#aba7e0" stroke-width="0.45"/>
<circle cx="421" cy="403" r="2.42" fill="#f1f0f8" stroke="#aba7e0" stroke-width="0.45"/>
<circle cx="426.5" cy="405.5" r="2.18" fill="#f1f0f8" stroke="#aba7e0" stroke-width="0.45"/>
<circle cx="434.5" cy="392.5" r="2.18" fill="#f1f0f8" stroke="#aba7e0" stroke-width="0.45"/>
<circle cx="430" cy="394.5" r="1.72" fill="#f1f0f8" stroke="#aba7e0" stroke-width="0.45"/>
<circle cx="420.5" cy="397.5" r="1.61" fill="#f1f0f8" stroke="#aba7e0" stroke-width="0.45"/>
<circle cx="425.5" cy="399.5" r="1.49" fill="#f1f0f8" stroke="#aba7e0" stroke-width="0.45"/>
<circle cx="435" cy="386" r="1.38" fill="#f1f0f8" stroke="#aba7e0" stroke-width="0.45"/>
<circle cx="429" cy="406" r="1.38" fill="#f1f0f8" stroke="#aba7e0" stroke-width="0.45"/>
<path d="M389.3 397 C389.5 393.5 392.5 392.3 395 393 C398 394 399.8 397.5 400 402 C400.2 406.5 398.3 409.7 394.5 409.7 C391 409.7 389 406.8 389 403 C389 400.5 389.2 399 389.3 397 Z" fill="#4f1cb6" filter="url(#ngrain)"/>
<ellipse cx="425.5" cy="386" rx="7.4" ry="7.5" fill="#4f1cb6" filter="url(#ngrain)"/>
<path d="M61.4 606.3V542.3H77.4V606.3" fill="#fff" stroke="#4a4a4a" stroke-width="1.2"/>
<path d="M86.9 606.3V536.2H102.9V606.3" fill="#fff" stroke="#4a4a4a" stroke-width="1.2"/>
<path d="M112.4 606.3V536.2H128.4V606.3" fill="#fff" stroke="#4a4a4a" stroke-width="1.2"/>
<path d="M137.9 606.3V530.4H153.9V606.3" fill="#fff" stroke="#4a4a4a" stroke-width="1.2"/>
<path d="M163.4 606.3V527.3H179.4V606.3" fill="#fff" stroke="#4a4a4a" stroke-width="1.2"/>
<path d="M188.9 606.3V512.4H204.9V606.3" fill="#fff" stroke="#4a4a4a" stroke-width="1.2"/>
<line x1="69.4" y1="542.3" x2="69.4" y2="538.5" stroke="#3a3a3a" stroke-width="1.1" />
<line x1="65.6" y1="538.5" x2="73.2" y2="538.5" stroke="#3a3a3a" stroke-width="1.1" />
<line x1="94.9" y1="536.2" x2="94.9" y2="532.8" stroke="#3a3a3a" stroke-width="1.1" />
<line x1="91.1" y1="532.8" x2="98.7" y2="532.8" stroke="#3a3a3a" stroke-width="1.1" />
<line x1="120.4" y1="536.2" x2="120.4" y2="532.8" stroke="#3a3a3a" stroke-width="1.1" />
<line x1="116.6" y1="532.8" x2="124.2" y2="532.8" stroke="#3a3a3a" stroke-width="1.1" />
<line x1="145.9" y1="530.4" x2="145.9" y2="527.3" stroke="#3a3a3a" stroke-width="1.1" />
<line x1="142.1" y1="527.3" x2="149.7" y2="527.3" stroke="#3a3a3a" stroke-width="1.1" />
<line x1="171.4" y1="527.3" x2="171.4" y2="523.5" stroke="#3a3a3a" stroke-width="1.1" />
<line x1="167.6" y1="523.5" x2="175.2" y2="523.5" stroke="#3a3a3a" stroke-width="1.1" />
<line x1="196.9" y1="512.4" x2="196.9" y2="509.1" stroke="#3a3a3a" stroke-width="1.1" />
<line x1="193.1" y1="509.1" x2="200.7" y2="509.1" stroke="#3a3a3a" stroke-width="1.1" />
<line x1="52.5" y1="542.3" x2="213.6" y2="542.3" stroke="#c8203e" stroke-width="1.2" stroke-dasharray="2.4 2.4"/>
<line x1="52.5" y1="495.2" x2="52.5" y2="606.8" stroke="#111" stroke-width="1.25" />
<line x1="52" y1="606.3" x2="213.6" y2="606.3" stroke="#111" stroke-width="1.25" />
<line x1="49.1" y1="606.3" x2="52.5" y2="606.3" stroke="#111" stroke-width="1" />
<text transform="translate(45.9 609.4) scale(0.86 1)" font-size="9.9" text-anchor="end" fill="#222">10<tspan dy="-3.1" font-size="6.8">0</tspan></text>
<line x1="50.6" y1="600.88" x2="52.5" y2="600.88" stroke="#222" stroke-width="0.8" />
<line x1="50.6" y1="597.71" x2="52.5" y2="597.71" stroke="#222" stroke-width="0.8" />
<line x1="50.6" y1="595.46" x2="52.5" y2="595.46" stroke="#222" stroke-width="0.8" />
<line x1="50.6" y1="593.72" x2="52.5" y2="593.72" stroke="#222" stroke-width="0.8" />
<line x1="50.6" y1="592.29" x2="52.5" y2="592.29" stroke="#222" stroke-width="0.8" />
<line x1="50.6" y1="591.09" x2="52.5" y2="591.09" stroke="#222" stroke-width="0.8" />
<line x1="50.6" y1="590.04" x2="52.5" y2="590.04" stroke="#222" stroke-width="0.8" />
<line x1="50.6" y1="589.12" x2="52.5" y2="589.12" stroke="#222" stroke-width="0.8" />
<line x1="49.1" y1="588.3" x2="52.5" y2="588.3" stroke="#111" stroke-width="1" />
<text transform="translate(45.9 591.4) scale(0.86 1)" font-size="9.9" text-anchor="end" fill="#222">10<tspan dy="-3.1" font-size="6.8">1</tspan></text>
<line x1="50.6" y1="582.88" x2="52.5" y2="582.88" stroke="#222" stroke-width="0.8" />
<line x1="50.6" y1="579.71" x2="52.5" y2="579.71" stroke="#222" stroke-width="0.8" />
<line x1="50.6" y1="577.46" x2="52.5" y2="577.46" stroke="#222" stroke-width="0.8" />
<line x1="50.6" y1="575.72" x2="52.5" y2="575.72" stroke="#222" stroke-width="0.8" />
<line x1="50.6" y1="574.29" x2="52.5" y2="574.29" stroke="#222" stroke-width="0.8" />
<line x1="50.6" y1="573.09" x2="52.5" y2="573.09" stroke="#222" stroke-width="0.8" />
<line x1="50.6" y1="572.04" x2="52.5" y2="572.04" stroke="#222" stroke-width="0.8" />
<line x1="50.6" y1="571.12" x2="52.5" y2="571.12" stroke="#222" stroke-width="0.8" />
<line x1="49.1" y1="570.3" x2="52.5" y2="570.3" stroke="#111" stroke-width="1" />
<text transform="translate(45.9 573.4) scale(0.86 1)" font-size="9.9" text-anchor="end" fill="#222">10<tspan dy="-3.1" font-size="6.8">2</tspan></text>
<line x1="50.6" y1="564.88" x2="52.5" y2="564.88" stroke="#222" stroke-width="0.8" />
<line x1="50.6" y1="561.71" x2="52.5" y2="561.71" stroke="#222" stroke-width="0.8" />
<line x1="50.6" y1="559.46" x2="52.5" y2="559.46" stroke="#222" stroke-width="0.8" />
<line x1="50.6" y1="557.72" x2="52.5" y2="557.72" stroke="#222" stroke-width="0.8" />
<line x1="50.6" y1="556.29" x2="52.5" y2="556.29" stroke="#222" stroke-width="0.8" />
<line x1="50.6" y1="555.09" x2="52.5" y2="555.09" stroke="#222" stroke-width="0.8" />
<line x1="50.6" y1="554.04" x2="52.5" y2="554.04" stroke="#222" stroke-width="0.8" />
<line x1="50.6" y1="553.12" x2="52.5" y2="553.12" stroke="#222" stroke-width="0.8" />
<line x1="49.1" y1="552.3" x2="52.5" y2="552.3" stroke="#111" stroke-width="1" />
<text transform="translate(45.9 555.4) scale(0.86 1)" font-size="9.9" text-anchor="end" fill="#222">10<tspan dy="-3.1" font-size="6.8">3</tspan></text>
<line x1="50.6" y1="546.88" x2="52.5" y2="546.88" stroke="#222" stroke-width="0.8" />
<line x1="50.6" y1="543.71" x2="52.5" y2="543.71" stroke="#222" stroke-width="0.8" />
<line x1="50.6" y1="541.46" x2="52.5" y2="541.46" stroke="#222" stroke-width="0.8" />
<line x1="50.6" y1="539.72" x2="52.5" y2="539.72" stroke="#222" stroke-width="0.8" />
<line x1="50.6" y1="538.29" x2="52.5" y2="538.29" stroke="#222" stroke-width="0.8" />
<line x1="50.6" y1="537.09" x2="52.5" y2="537.09" stroke="#222" stroke-width="0.8" />
<line x1="50.6" y1="536.04" x2="52.5" y2="536.04" stroke="#222" stroke-width="0.8" />
<line x1="50.6" y1="535.12" x2="52.5" y2="535.12" stroke="#222" stroke-width="0.8" />
<line x1="49.1" y1="534.3" x2="52.5" y2="534.3" stroke="#111" stroke-width="1" />
<text transform="translate(45.9 537.4) scale(0.86 1)" font-size="9.9" text-anchor="end" fill="#222">10<tspan dy="-3.1" font-size="6.8">4</tspan></text>
<line x1="50.6" y1="528.88" x2="52.5" y2="528.88" stroke="#222" stroke-width="0.8" />
<line x1="50.6" y1="525.71" x2="52.5" y2="525.71" stroke="#222" stroke-width="0.8" />
<line x1="50.6" y1="523.46" x2="52.5" y2="523.46" stroke="#222" stroke-width="0.8" />
<line x1="50.6" y1="521.72" x2="52.5" y2="521.72" stroke="#222" stroke-width="0.8" />
<line x1="50.6" y1="520.29" x2="52.5" y2="520.29" stroke="#222" stroke-width="0.8" />
<line x1="50.6" y1="519.09" x2="52.5" y2="519.09" stroke="#222" stroke-width="0.8" />
<line x1="50.6" y1="518.04" x2="52.5" y2="518.04" stroke="#222" stroke-width="0.8" />
<line x1="50.6" y1="517.12" x2="52.5" y2="517.12" stroke="#222" stroke-width="0.8" />
<line x1="49.1" y1="516.3" x2="52.5" y2="516.3" stroke="#111" stroke-width="1" />
<text transform="translate(45.9 519.4) scale(0.86 1)" font-size="9.9" text-anchor="end" fill="#222">10<tspan dy="-3.1" font-size="6.8">5</tspan></text>
<line x1="50.6" y1="510.88" x2="52.5" y2="510.88" stroke="#222" stroke-width="0.8" />
<line x1="50.6" y1="507.71" x2="52.5" y2="507.71" stroke="#222" stroke-width="0.8" />
<line x1="50.6" y1="505.46" x2="52.5" y2="505.46" stroke="#222" stroke-width="0.8" />
<line x1="50.6" y1="503.72" x2="52.5" y2="503.72" stroke="#222" stroke-width="0.8" />
<line x1="50.6" y1="502.29" x2="52.5" y2="502.29" stroke="#222" stroke-width="0.8" />
<line x1="50.6" y1="501.09" x2="52.5" y2="501.09" stroke="#222" stroke-width="0.8" />
<line x1="50.6" y1="500.04" x2="52.5" y2="500.04" stroke="#222" stroke-width="0.8" />
<line x1="50.6" y1="499.12" x2="52.5" y2="499.12" stroke="#222" stroke-width="0.8" />
<line x1="49.1" y1="498.3" x2="52.5" y2="498.3" stroke="#111" stroke-width="1" />
<text transform="translate(45.9 501.4) scale(0.86 1)" font-size="9.9" text-anchor="end" fill="#222">10<tspan dy="-3.1" font-size="6.8">6</tspan></text>
<line x1="69.4" y1="606.3" x2="69.4" y2="609.6" stroke="#111" stroke-width="1" />
<text transform="translate(73.6 617.2) rotate(-45)" font-size="9.2" text-anchor="end" fill="#1a1a1a">T-ALL</text>
<line x1="94.9" y1="606.3" x2="94.9" y2="609.6" stroke="#111" stroke-width="1" />
<text transform="translate(99.1 617.2) rotate(-45)" font-size="9.2" text-anchor="end" fill="#1a1a1a">+granulocyte</text>
<line x1="120.4" y1="606.3" x2="120.4" y2="609.6" stroke="#111" stroke-width="1" />
<text transform="translate(124.6 617.2) rotate(-45)" font-size="9.2" text-anchor="end" fill="#1a1a1a">+cDC1</text>
<line x1="145.9" y1="606.3" x2="145.9" y2="609.6" stroke="#111" stroke-width="1" />
<text transform="translate(150.1 617.2) rotate(-45)" font-size="9.2" text-anchor="end" fill="#1a1a1a">+cDC2</text>
<line x1="171.4" y1="606.3" x2="171.4" y2="609.6" stroke="#111" stroke-width="1" />
<text transform="translate(175.6 617.2) rotate(-45)" font-size="9.2" text-anchor="end" fill="#1a1a1a">+monocyte</text>
<line x1="196.9" y1="606.3" x2="196.9" y2="609.6" stroke="#111" stroke-width="1" />
<text transform="translate(201.1 617.2) rotate(-45)" font-size="9.2" text-anchor="end" fill="#1a1a1a">+macrophage</text>
<circle cx="65.7" cy="533.4" r="2.1" fill="#62bff5" stroke="#000" stroke-width="0.5"/>
<circle cx="73.5" cy="532.6" r="2.1" fill="#a07812" stroke="#000" stroke-width="0.5"/>
<circle cx="69.5" cy="540" r="2.1" fill="#5a6af0" stroke="#000" stroke-width="0.5"/>
<circle cx="69.5" cy="550.3" r="2.1" fill="#c9ef82" stroke="#000" stroke-width="0.5"/>
<circle cx="65.7" cy="561.2" r="2.1" fill="#f4b326" stroke="#000" stroke-width="0.5"/>
<circle cx="73.5" cy="561.2" r="2.1" fill="#e62a5c" stroke="#000" stroke-width="0.5"/>
<circle cx="69.5" cy="569.7" r="2.1" fill="#8e1286" stroke="#000" stroke-width="0.5"/>
<circle cx="69.5" cy="574.3" r="2.1" fill="#0c1a86" stroke="#000" stroke-width="0.5"/>
<circle cx="88.5" cy="526.6" r="2.1" fill="#62bff5" stroke="#000" stroke-width="0.5"/>
<circle cx="94.9" cy="530" r="2.1" fill="#c9ef82" stroke="#000" stroke-width="0.5"/>
<circle cx="101.5" cy="530" r="2.1" fill="#a07812" stroke="#000" stroke-width="0.5"/>
<circle cx="94.9" cy="542.6" r="2.1" fill="#5a6af0" stroke="#000" stroke-width="0.5"/>
<circle cx="91.5" cy="558" r="2.1" fill="#e62a5c" stroke="#000" stroke-width="0.5"/>
<circle cx="98.5" cy="557" r="2.1" fill="#f4b326" stroke="#000" stroke-width="0.5"/>
<circle cx="94.9" cy="565.7" r="2.1" fill="#8e1286" stroke="#000" stroke-width="0.5"/>
<circle cx="94.9" cy="577.4" r="2.1" fill="#0c1a86" stroke="#000" stroke-width="0.5"/>
<circle cx="116.6" cy="529.4" r="2.1" fill="#a07812" stroke="#000" stroke-width="0.5"/>
<circle cx="124.3" cy="526.2" r="2.1" fill="#c9ef82" stroke="#000" stroke-width="0.5"/>
<circle cx="124.3" cy="533.1" r="2.1" fill="#62bff5" stroke="#000" stroke-width="0.5"/>
<circle cx="116.6" cy="545.1" r="2.1" fill="#e62a5c" stroke="#000" stroke-width="0.5"/>
<circle cx="124.3" cy="546.2" r="2.1" fill="#5a6af0" stroke="#000" stroke-width="0.5"/>
<circle cx="120.5" cy="556.6" r="2.1" fill="#f4b326" stroke="#000" stroke-width="0.5"/>
<circle cx="116.6" cy="564.3" r="2.1" fill="#0c1a86" stroke="#000" stroke-width="0.5"/>
<circle cx="124.3" cy="564.3" r="2.1" fill="#8e1286" stroke="#000" stroke-width="0.5"/>
<circle cx="145.9" cy="520.6" r="2.1" fill="#62bff5" stroke="#000" stroke-width="0.5"/>
<circle cx="141.8" cy="525.5" r="2.1" fill="#c9ef82" stroke="#000" stroke-width="0.5"/>
<circle cx="149.9" cy="527.6" r="2.1" fill="#5a6af0" stroke="#000" stroke-width="0.5"/>
<circle cx="141.8" cy="530.9" r="2.1" fill="#a07812" stroke="#000" stroke-width="0.5"/>
<circle cx="145.9" cy="539.4" r="2.1" fill="#e62a5c" stroke="#000" stroke-width="0.5"/>
<circle cx="145.9" cy="547.7" r="2.1" fill="#f4b326" stroke="#000" stroke-width="0.5"/>
<circle cx="145.9" cy="552.9" r="2.1" fill="#8e1286" stroke="#000" stroke-width="0.5"/>
<circle cx="145.9" cy="557.3" r="2.1" fill="#0c1a86" stroke="#000" stroke-width="0.5"/>
<circle cx="171.4" cy="515.8" r="2.1" fill="#5a6af0" stroke="#000" stroke-width="0.5"/>
<circle cx="164.7" cy="524" r="2.1" fill="#c9ef82" stroke="#000" stroke-width="0.5"/>
<circle cx="177.9" cy="524.3" r="2.1" fill="#62bff5" stroke="#000" stroke-width="0.5"/>
<circle cx="171.4" cy="527.3" r="2.1" fill="#a07812" stroke="#000" stroke-width="0.5"/>
<circle cx="171.4" cy="537.7" r="2.1" fill="#e62a5c" stroke="#000" stroke-width="0.5"/>
<circle cx="171.4" cy="547.7" r="2.1" fill="#f4b326" stroke="#000" stroke-width="0.5"/>
<circle cx="171.4" cy="557.8" r="2.1" fill="#8e1286" stroke="#000" stroke-width="0.5"/>
<circle cx="171.4" cy="574.5" r="2.1" fill="#0c1a86" stroke="#000" stroke-width="0.5"/>
<circle cx="196.7" cy="505.5" r="2.1" fill="#62bff5" stroke="#000" stroke-width="0.5"/>
<circle cx="203.6" cy="506.3" r="2.1" fill="#a07812" stroke="#000" stroke-width="0.5"/>
<circle cx="190.5" cy="508.3" r="2.1" fill="#0c1a86" stroke="#000" stroke-width="0.5"/>
<circle cx="196.7" cy="509.6" r="2.1" fill="#5a6af0" stroke="#000" stroke-width="0.5"/>
<circle cx="203.6" cy="520.6" r="2.1" fill="#8e1286" stroke="#000" stroke-width="0.5"/>
<circle cx="196.7" cy="522.2" r="2.1" fill="#c9ef82" stroke="#000" stroke-width="0.5"/>
<circle cx="196.7" cy="531.7" r="2.1" fill="#e62a5c" stroke="#000" stroke-width="0.5"/>
<circle cx="196.7" cy="543.1" r="2.1" fill="#f4b326" stroke="#000" stroke-width="0.5"/>
<text x="94.9" y="504.2" font-size="8.6" text-anchor="middle" font-weight="normal" fill="#222" >ns</text>
<text x="120.4" y="504.2" font-size="8.6" text-anchor="middle" font-weight="normal" fill="#222" >ns</text>
<text x="145.9" y="503.7" font-size="9.2" text-anchor="middle" font-weight="normal" fill="#222" >**</text>
<text x="171.4" y="503.7" font-size="9.2" text-anchor="middle" font-weight="normal" fill="#222" >*</text>
<text x="196.9" y="503.7" font-size="9.2" text-anchor="middle" font-weight="normal" fill="#222" >**</text>
<text x="119.74" y="481.2" font-size="9" fill="#1a1a1a">spleen</text>
<line x1="119.74" y1="482.5" x2="146.26" y2="482.5" stroke="#333" stroke-width="0.75" />
<text transform="translate(25.9 550.6) rotate(-90) scale(0.645 1)" font-size="11.4" text-anchor="middle" fill="#1a1a1a"># of T-ALL cells</text>
<path d="M275.6 606.3V536.3H291.6V606.3" fill="#fff" stroke="#4a4a4a" stroke-width="1.2"/>
<path d="M301.1 606.3V532.8H317.1V606.3" fill="#fff" stroke="#4a4a4a" stroke-width="1.2"/>
<path d="M326.6 606.3V530.5H342.6V606.3" fill="#fff" stroke="#4a4a4a" stroke-width="1.2"/>
<path d="M352.1 606.3V522.4H368.1V606.3" fill="#fff" stroke="#4a4a4a" stroke-width="1.2"/>
<path d="M377.6 606.3V520.2H393.6V606.3" fill="#fff" stroke="#4a4a4a" stroke-width="1.2"/>
<path d="M403.1 606.3V516.2H419.1V606.3" fill="#fff" stroke="#4a4a4a" stroke-width="1.2"/>
<line x1="283.6" y1="536.3" x2="283.6" y2="532.2" stroke="#3a3a3a" stroke-width="1.1" />
<line x1="279.8" y1="532.2" x2="287.4" y2="532.2" stroke="#3a3a3a" stroke-width="1.1" />
<line x1="309.1" y1="532.8" x2="309.1" y2="529.2" stroke="#3a3a3a" stroke-width="1.1" />
<line x1="305.3" y1="529.2" x2="312.9" y2="529.2" stroke="#3a3a3a" stroke-width="1.1" />
<line x1="334.6" y1="530.5" x2="334.6" y2="527.3" stroke="#3a3a3a" stroke-width="1.1" />
<line x1="330.8" y1="527.3" x2="338.4" y2="527.3" stroke="#3a3a3a" stroke-width="1.1" />
<line x1="360.1" y1="522.4" x2="360.1" y2="517.3" stroke="#3a3a3a" stroke-width="1.1" />
<line x1="356.3" y1="517.3" x2="363.9" y2="517.3" stroke="#3a3a3a" stroke-width="1.1" />
<line x1="385.6" y1="520.2" x2="385.6" y2="516.2" stroke="#3a3a3a" stroke-width="1.1" />
<line x1="381.8" y1="516.2" x2="389.4" y2="516.2" stroke="#3a3a3a" stroke-width="1.1" />
<line x1="411.1" y1="516.2" x2="411.1" y2="513.7" stroke="#3a3a3a" stroke-width="1.1" />
<line x1="407.3" y1="513.7" x2="414.9" y2="513.7" stroke="#3a3a3a" stroke-width="1.1" />
<line x1="266.5" y1="536.7" x2="428" y2="536.7" stroke="#c8203e" stroke-width="1.2" stroke-dasharray="2.4 2.4"/>
<line x1="266.5" y1="495.2" x2="266.5" y2="606.8" stroke="#111" stroke-width="1.25" />
<line x1="266" y1="606.3" x2="428" y2="606.3" stroke="#111" stroke-width="1.25" />
<line x1="263.1" y1="606.3" x2="266.5" y2="606.3" stroke="#111" stroke-width="1" />
<text transform="translate(259.9 609.4) scale(0.86 1)" font-size="9.9" text-anchor="end" fill="#222">10<tspan dy="-3.1" font-size="6.8">0</tspan></text>
<line x1="264.6" y1="600.88" x2="266.5" y2="600.88" stroke="#222" stroke-width="0.8" />
<line x1="264.6" y1="597.71" x2="266.5" y2="597.71" stroke="#222" stroke-width="0.8" />
<line x1="264.6" y1="595.46" x2="266.5" y2="595.46" stroke="#222" stroke-width="0.8" />
<line x1="264.6" y1="593.72" x2="266.5" y2="593.72" stroke="#222" stroke-width="0.8" />
<line x1="264.6" y1="592.29" x2="266.5" y2="592.29" stroke="#222" stroke-width="0.8" />
<line x1="264.6" y1="591.09" x2="266.5" y2="591.09" stroke="#222" stroke-width="0.8" />
<line x1="264.6" y1="590.04" x2="266.5" y2="590.04" stroke="#222" stroke-width="0.8" />
<line x1="264.6" y1="589.12" x2="266.5" y2="589.12" stroke="#222" stroke-width="0.8" />
<line x1="263.1" y1="588.3" x2="266.5" y2="588.3" stroke="#111" stroke-width="1" />
<text transform="translate(259.9 591.4) scale(0.86 1)" font-size="9.9" text-anchor="end" fill="#222">10<tspan dy="-3.1" font-size="6.8">1</tspan></text>
<line x1="264.6" y1="582.88" x2="266.5" y2="582.88" stroke="#222" stroke-width="0.8" />
<line x1="264.6" y1="579.71" x2="266.5" y2="579.71" stroke="#222" stroke-width="0.8" />
<line x1="264.6" y1="577.46" x2="266.5" y2="577.46" stroke="#222" stroke-width="0.8" />
<line x1="264.6" y1="575.72" x2="266.5" y2="575.72" stroke="#222" stroke-width="0.8" />
<line x1="264.6" y1="574.29" x2="266.5" y2="574.29" stroke="#222" stroke-width="0.8" />
<line x1="264.6" y1="573.09" x2="266.5" y2="573.09" stroke="#222" stroke-width="0.8" />
<line x1="264.6" y1="572.04" x2="266.5" y2="572.04" stroke="#222" stroke-width="0.8" />
<line x1="264.6" y1="571.12" x2="266.5" y2="571.12" stroke="#222" stroke-width="0.8" />
<line x1="263.1" y1="570.3" x2="266.5" y2="570.3" stroke="#111" stroke-width="1" />
<text transform="translate(259.9 573.4) scale(0.86 1)" font-size="9.9" text-anchor="end" fill="#222">10<tspan dy="-3.1" font-size="6.8">2</tspan></text>
<line x1="264.6" y1="564.88" x2="266.5" y2="564.88" stroke="#222" stroke-width="0.8" />
<line x1="264.6" y1="561.71" x2="266.5" y2="561.71" stroke="#222" stroke-width="0.8" />
<line x1="264.6" y1="559.46" x2="266.5" y2="559.46" stroke="#222" stroke-width="0.8" />
<line x1="264.6" y1="557.72" x2="266.5" y2="557.72" stroke="#222" stroke-width="0.8" />
<line x1="264.6" y1="556.29" x2="266.5" y2="556.29" stroke="#222" stroke-width="0.8" />
<line x1="264.6" y1="555.09" x2="266.5" y2="555.09" stroke="#222" stroke-width="0.8" />
<line x1="264.6" y1="554.04" x2="266.5" y2="554.04" stroke="#222" stroke-width="0.8" />
<line x1="264.6" y1="553.12" x2="266.5" y2="553.12" stroke="#222" stroke-width="0.8" />
<line x1="263.1" y1="552.3" x2="266.5" y2="552.3" stroke="#111" stroke-width="1" />
<text transform="translate(259.9 555.4) scale(0.86 1)" font-size="9.9" text-anchor="end" fill="#222">10<tspan dy="-3.1" font-size="6.8">3</tspan></text>
<line x1="264.6" y1="546.88" x2="266.5" y2="546.88" stroke="#222" stroke-width="0.8" />
<line x1="264.6" y1="543.71" x2="266.5" y2="543.71" stroke="#222" stroke-width="0.8" />
<line x1="264.6" y1="541.46" x2="266.5" y2="541.46" stroke="#222" stroke-width="0.8" />
<line x1="264.6" y1="539.72" x2="266.5" y2="539.72" stroke="#222" stroke-width="0.8" />
<line x1="264.6" y1="538.29" x2="266.5" y2="538.29" stroke="#222" stroke-width="0.8" />
<line x1="264.6" y1="537.09" x2="266.5" y2="537.09" stroke="#222" stroke-width="0.8" />
<line x1="264.6" y1="536.04" x2="266.5" y2="536.04" stroke="#222" stroke-width="0.8" />
<line x1="264.6" y1="535.12" x2="266.5" y2="535.12" stroke="#222" stroke-width="0.8" />
<line x1="263.1" y1="534.3" x2="266.5" y2="534.3" stroke="#111" stroke-width="1" />
<text transform="translate(259.9 537.4) scale(0.86 1)" font-size="9.9" text-anchor="end" fill="#222">10<tspan dy="-3.1" font-size="6.8">4</tspan></text>
<line x1="264.6" y1="528.88" x2="266.5" y2="528.88" stroke="#222" stroke-width="0.8" />
<line x1="264.6" y1="525.71" x2="266.5" y2="525.71" stroke="#222" stroke-width="0.8" />
<line x1="264.6" y1="523.46" x2="266.5" y2="523.46" stroke="#222" stroke-width="0.8" />
<line x1="264.6" y1="521.72" x2="266.5" y2="521.72" stroke="#222" stroke-width="0.8" />
<line x1="264.6" y1="520.29" x2="266.5" y2="520.29" stroke="#222" stroke-width="0.8" />
<line x1="264.6" y1="519.09" x2="266.5" y2="519.09" stroke="#222" stroke-width="0.8" />
<line x1="264.6" y1="518.04" x2="266.5" y2="518.04" stroke="#222" stroke-width="0.8" />
<line x1="264.6" y1="517.12" x2="266.5" y2="517.12" stroke="#222" stroke-width="0.8" />
<line x1="263.1" y1="516.3" x2="266.5" y2="516.3" stroke="#111" stroke-width="1" />
<text transform="translate(259.9 519.4) scale(0.86 1)" font-size="9.9" text-anchor="end" fill="#222">10<tspan dy="-3.1" font-size="6.8">5</tspan></text>
<line x1="264.6" y1="510.88" x2="266.5" y2="510.88" stroke="#222" stroke-width="0.8" />
<line x1="264.6" y1="507.71" x2="266.5" y2="507.71" stroke="#222" stroke-width="0.8" />
<line x1="264.6" y1="505.46" x2="266.5" y2="505.46" stroke="#222" stroke-width="0.8" />
<line x1="264.6" y1="503.72" x2="266.5" y2="503.72" stroke="#222" stroke-width="0.8" />
<line x1="264.6" y1="502.29" x2="266.5" y2="502.29" stroke="#222" stroke-width="0.8" />
<line x1="264.6" y1="501.09" x2="266.5" y2="501.09" stroke="#222" stroke-width="0.8" />
<line x1="264.6" y1="500.04" x2="266.5" y2="500.04" stroke="#222" stroke-width="0.8" />
<line x1="264.6" y1="499.12" x2="266.5" y2="499.12" stroke="#222" stroke-width="0.8" />
<line x1="263.1" y1="498.3" x2="266.5" y2="498.3" stroke="#111" stroke-width="1" />
<text transform="translate(259.9 501.4) scale(0.86 1)" font-size="9.9" text-anchor="end" fill="#222">10<tspan dy="-3.1" font-size="6.8">6</tspan></text>
<line x1="283.6" y1="606.3" x2="283.6" y2="609.6" stroke="#111" stroke-width="1" />
<text transform="translate(287.8 617.2) rotate(-45)" font-size="9.2" text-anchor="end" fill="#1a1a1a">T-ALL</text>
<line x1="309.1" y1="606.3" x2="309.1" y2="609.6" stroke="#111" stroke-width="1" />
<text transform="translate(313.3 617.2) rotate(-45)" font-size="9.2" text-anchor="end" fill="#1a1a1a">+granulocyte</text>
<line x1="334.6" y1="606.3" x2="334.6" y2="609.6" stroke="#111" stroke-width="1" />
<text transform="translate(338.8 617.2) rotate(-45)" font-size="9.2" text-anchor="end" fill="#1a1a1a">+cDC1</text>
<line x1="360.1" y1="606.3" x2="360.1" y2="609.6" stroke="#111" stroke-width="1" />
<text transform="translate(364.3 617.2) rotate(-45)" font-size="9.2" text-anchor="end" fill="#1a1a1a">+cDC2</text>
<line x1="385.6" y1="606.3" x2="385.6" y2="609.6" stroke="#111" stroke-width="1" />
<text transform="translate(389.8 617.2) rotate(-45)" font-size="9.2" text-anchor="end" fill="#1a1a1a">+monocyte</text>
<line x1="411.1" y1="606.3" x2="411.1" y2="609.6" stroke="#111" stroke-width="1" />
<text transform="translate(415.3 617.2) rotate(-45)" font-size="9.2" text-anchor="end" fill="#1a1a1a">+macrophage</text>
<circle cx="276.9" cy="526.3" r="2.1" fill="#62bff5" stroke="#000" stroke-width="0.5"/>
<circle cx="283.8" cy="529.6" r="2.1" fill="#0c1a86" stroke="#000" stroke-width="0.5"/>
<circle cx="276.9" cy="556.2" r="2.1" fill="#e62a5c" stroke="#000" stroke-width="0.5"/>
<circle cx="283.8" cy="559.8" r="2.1" fill="#f4b326" stroke="#000" stroke-width="0.5"/>
<circle cx="290" cy="557" r="2.1" fill="#8e1286" stroke="#000" stroke-width="0.5"/>
<circle cx="283.8" cy="572" r="2.1" fill="#c9ef82" stroke="#000" stroke-width="0.5"/>
<circle cx="309.1" cy="523.8" r="2.1" fill="#0c1a86" stroke="#000" stroke-width="0.5"/>
<circle cx="305" cy="527.9" r="2.1" fill="#62bff5" stroke="#000" stroke-width="0.5"/>
<circle cx="312.9" cy="531.7" r="2.1" fill="#e62a5c" stroke="#000" stroke-width="0.5"/>
<circle cx="309.1" cy="556.2" r="2.1" fill="#8e1286" stroke="#000" stroke-width="0.5"/>
<circle cx="309.1" cy="562.7" r="2.1" fill="#c9ef82" stroke="#000" stroke-width="0.5"/>
<circle cx="309.1" cy="566.8" r="2.1" fill="#f4b326" stroke="#000" stroke-width="0.5"/>
<circle cx="334.8" cy="520.6" r="2.1" fill="#0c1a86" stroke="#000" stroke-width="0.5"/>
<circle cx="330.7" cy="528.1" r="2.1" fill="#e62a5c" stroke="#000" stroke-width="0.5"/>
<circle cx="338.6" cy="529.2" r="2.1" fill="#62bff5" stroke="#000" stroke-width="0.5"/>
<circle cx="330.7" cy="554.1" r="2.1" fill="#f4b326" stroke="#000" stroke-width="0.5"/>
<circle cx="338.6" cy="554.9" r="2.1" fill="#8e1286" stroke="#000" stroke-width="0.5"/>
<circle cx="334.8" cy="570.9" r="2.1" fill="#c9ef82" stroke="#000" stroke-width="0.5"/>
<circle cx="360" cy="509.6" r="2.1" fill="#0c1a86" stroke="#000" stroke-width="0.5"/>
<circle cx="360" cy="522.7" r="2.1" fill="#62bff5" stroke="#000" stroke-width="0.5"/>
<circle cx="356.1" cy="539.4" r="2.1" fill="#f4b326" stroke="#000" stroke-width="0.5"/>
<circle cx="363.8" cy="537.7" r="2.1" fill="#c9ef82" stroke="#000" stroke-width="0.5"/>
<circle cx="360" cy="549.7" r="2.1" fill="#e62a5c" stroke="#000" stroke-width="0.5"/>
<circle cx="360" cy="555.7" r="2.1" fill="#8e1286" stroke="#000" stroke-width="0.5"/>
<circle cx="385.5" cy="509.9" r="2.1" fill="#0c1a86" stroke="#000" stroke-width="0.5"/>
<circle cx="381.8" cy="518.9" r="2.1" fill="#e62a5c" stroke="#000" stroke-width="0.5"/>
<circle cx="389.5" cy="519.4" r="2.1" fill="#62bff5" stroke="#000" stroke-width="0.5"/>
<circle cx="381.8" cy="539.4" r="2.1" fill="#8e1286" stroke="#000" stroke-width="0.5"/>
<circle cx="389.5" cy="541.5" r="2.1" fill="#c9ef82" stroke="#000" stroke-width="0.5"/>
<circle cx="385.5" cy="556.2" r="2.1" fill="#f4b326" stroke="#000" stroke-width="0.5"/>
<circle cx="407.1" cy="511.2" r="2.1" fill="#c9ef82" stroke="#000" stroke-width="0.5"/>
<circle cx="415" cy="510.8" r="2.1" fill="#0c1a86" stroke="#000" stroke-width="0.5"/>
<circle cx="407.1" cy="515.8" r="2.1" fill="#62bff5" stroke="#000" stroke-width="0.5"/>
<circle cx="415" cy="515.7" r="2.1" fill="#f4b326" stroke="#000" stroke-width="0.5"/>
<circle cx="410.9" cy="528.9" r="2.1" fill="#e62a5c" stroke="#000" stroke-width="0.5"/>
<circle cx="410.9" cy="551.8" r="2.1" fill="#8e1286" stroke="#000" stroke-width="0.5"/>
<text x="309.1" y="504.2" font-size="8.6" text-anchor="middle" font-weight="normal" fill="#222" >ns</text>
<text x="334.6" y="504.2" font-size="8.6" text-anchor="middle" font-weight="normal" fill="#222" >ns</text>
<text x="360.1" y="504.2" font-size="8.6" text-anchor="middle" font-weight="normal" fill="#222" >0.07</text>
<text x="385.6" y="503.7" font-size="9.2" text-anchor="middle" font-weight="normal" fill="#222" >*</text>
<text x="411.1" y="503.7" font-size="9.2" text-anchor="middle" font-weight="normal" fill="#222" >**</text>
<text x="338.75" y="481.2" font-size="9" fill="#1a1a1a">liver</text>
<line x1="338.75" y1="482.5" x2="355.25" y2="482.5" stroke="#333" stroke-width="0.75" />
<text transform="translate(239.4 550.6) rotate(-90) scale(0.645 1)" font-size="11.4" text-anchor="middle" fill="#1a1a1a"># of T-ALL cells</text>
<text x="7.6" y="18.6" font-size="13" text-anchor="start" font-weight="bold" fill="#000" >A</text>
<text x="8.2" y="346.9" font-size="12" text-anchor="start" font-weight="bold" fill="#000" >B</text>
<text x="7.6" y="470.3" font-size="13" text-anchor="start" font-weight="bold" fill="#000" >C</text>
</svg>
</body></html>
